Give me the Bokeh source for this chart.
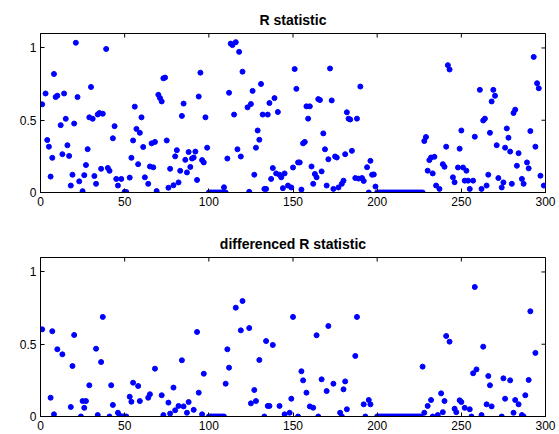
import numpy as np
from bokeh.plotting import figure
from bokeh.layouts import column
from bokeh.models import Range1d, FixedTicker
from bokeh.embed import file_html
from bokeh.resources import INLINE

# ---- R statistic (top panel) ----
r_idx = [1, 3, 4, 5, 6, 7, 8, 9, 10, 12, 13, 14, 15, 16, 17, 18, 19, 20, 21, 22,
         23, 25, 26, 27, 28, 29, 30, 31, 32, 33, 34, 35, 36, 37, 39, 40, 41, 43, 44, 45,
         46, 48, 50, 51, 53, 54, 55, 56, 57, 58, 59, 60, 61, 62, 64, 65, 66, 67, 68, 69,
         70, 71, 72, 73, 74, 75, 76, 77, 79, 80, 81, 82, 83, 84, 85, 86, 87, 88, 89, 90,
         91, 92, 93, 94, 95, 96, 97, 98, 99, 109, 111, 112, 113, 114, 115, 116, 117, 118, 119, 120,
         123, 124, 125, 126, 127, 128, 129, 130, 131, 132, 133, 134, 135, 136, 137, 138, 139, 140, 141, 142,
         143, 144, 145, 147, 149, 150, 151, 152, 153, 154, 155, 156, 157, 158, 159, 160, 161, 162, 163, 164,
         165, 166, 167, 168, 169, 170, 171, 172, 173, 174, 175, 176, 177, 179, 180, 181, 182, 183, 184, 185,
         187, 188, 189, 190, 191, 192, 194, 195, 196, 197, 198, 199, 228, 229, 230, 231, 232, 233, 234, 235,
         237, 239, 240, 241, 242, 243, 245, 246, 248, 249, 250, 251, 252, 253, 254, 255, 257, 258, 261, 262,
         263, 264, 265, 266, 267, 268, 269, 270, 271, 272, 274, 275, 276, 277, 278, 279, 280, 281, 282, 283,
         284, 286, 287, 289, 290, 291, 293, 294, 295, 296, 297, 299]
r_val = [0.61, 0.685, 0.363, 0.317, 0.11, 0.24, 0.82, 0.66, 0.67, 0.466, 0.265, 0.685, 0.51, 0.327, 0.253, 0.048, 0.123, 0.477, 1.036, 0.66,
         0.077, 0.009, 0.12, 0.19, 0.30, 0.52, 0.73, 0.51, 0.114, 0.06, 0.54, 0.55, 0.164, 0.545, 0.993, 0.17, 0.15, 0.375, 0.459, 0.094,
         0.048, 0.094, 0.005, 0.003, 0.103, 0.24, 0.36, 0.594, 0.44, 0.196, 0.413, 0.52, 0.315, 0.105, 0.06, 0.18, 0.34, 0.174, 0.35, 0.01,
         0.676, 0.653, 0.63, 0.79, 0.795, 0.36, 0.033, 0.164, 0.05, 0.25, 0.293, 0.07, 0.15, 0.53, 0.615, 0.226, 0.139, 0.28, 0.177, 0.235,
         0.242, 0.283, 0.087, 0.664, 0.829, 0.224, 0.208, 0.52, 0.31, 0.036, 0.235, 0.69, 1.03, 1.02, 0.539, 1.04, 0.299, 0.973, 0.249, 0.836,
         0.589, 0.005, 0.612, 0.703, 0.123, 0.31, 0.429, 0.365, 0.751, 0.539, 0.025, 0.025, 0.539, 0.619, 0.094, 0.169, 0.653, 0.132, 0.557, 0.123,
         0.105, 0.03, 0.132, 0.048, 0.035, 0.173, 0.854, 0.717, 0.208, 0.208, 0.02, 0.34, 0.35, 0.596, 0.511, 0.596, 0.18, 0.06, 0.128, 0.105,
         0.646, 0.64, 0.146, 0.409, 0.299, 0.048, 0.23, 0.858, 0.637, 0.025, 0.249, 0.242, 0.035, 0.06, 0.082, 0.265, 0.555, 0.511, 0.505, 0.288,
         0.1, 0.511, 0.096, 0.733, 0.1, 0.08, 0.175, 0.0, 0.219, 0.123, 0.125, 0.041, 0.356, 0.384, 0.151, 0.224, 0.242, 0.132, 0.247, 0.048,
         0.025, 0.196, 0.178, 0.317, 0.881, 0.851, 0.105, 0.071, 0.173, 0.303, 0.429, 0.173, 0.082, 0.151, 0.082, 0.025, 0.082, 0.386, 0.71, 0.025,
         0.498, 0.511, 0.048, 0.123, 0.413, 0.63, 0.71, 0.669, 0.327, 0.1, 0.035, 0.07, 0.31, 0.443, 0.379, 0.283, 0.06, 0.55, 0.573, 0.185,
         0.272, 0.094, 0.06, 0.208, 0.167, 0.425, 0.938, 0.317, 0.756, 0.721, 0.116, 0.048]
# stretches where the statistic sits at zero
r_zero_idx = list(range(100, 109)) + [110] + list(range(200, 228))

# ---- differenced R statistic (bottom panel) ----
d_idx = [1, 6, 7, 8, 10, 13, 18, 19, 20, 24, 25, 26, 27, 29, 33, 34, 36, 37, 41, 42,
         43, 46, 47, 48, 49, 50, 51, 53, 54, 55, 58, 59, 64, 65, 68, 72, 73, 76, 77, 79,
         80, 82, 84, 85, 87, 88, 91, 93, 94, 96, 97, 110, 111, 112, 116, 119, 120, 124, 125, 127,
         128, 130, 133, 134, 135, 136, 138, 142, 145, 148, 149, 150, 153, 155, 156, 158, 160, 162, 164, 165,
         167, 170, 171, 174, 178, 179, 180, 181, 182, 187, 188, 192, 193, 195, 196, 227, 228, 230, 232, 233,
         236, 238, 239, 240, 241, 243, 246, 247, 249, 250, 252, 255, 256, 257, 258, 259, 262, 263, 265, 266,
         267, 268, 274, 275, 276, 279, 281, 282, 284, 286, 287, 288, 290, 291, 294]
d_val = [0.603, 0.13, 0.59, 0.015, 0.465, 0.43, 0.066, 0.349, 0.564, 0.0, 0.107, 0.06, 0.107, 0.216, 0.469, 0.01, 0.377, 0.689, 0.0, 0.216,
         0.08, 0.026, 0.005, 0.0, 0.0, 0.0, 0.0, 0.137, 0.102, 0.234, 0.211, 0.107, 0.13, 0.154, 0.331, 0.147, 0.01, 0.096, 0.02, 0.2,
         0.043, 0.073, 0.389, 0.07, 0.026, 0.1, 0.046, 0.585, 0.165, 0.015, 0.296, 0.227, 0.465, 0.338, 0.753, 0.596, 0.799, 0.612, 0.091, 0.183,
         0.107, 0.391, 0.0, 0.522, 0.073, 0.073, 0.495, 0.073, 0.015, 0.026, 0.123, 0.689, 0.0, 0.313, 0.25, 0.165, 0.07, 0.061, 0.562, 0.0,
         0.257, 0.176, 0.626, 0.227, 0.026, 0.0, 0.188, 0.243, 0.05, 0.419, 0.689, 0.084, 0.0, 0.114, 0.084, 0.345, 0.026, 0.073, 0.114, 0.0,
         0.01, 0.16, 0.03, 0.107, 0.557, 0.518, 0.054, 0.03, 0.112, 0.1, 0.06, 0.05, 0.0, 0.299, 0.896, 0.326, 0.01, 0.483, 0.084, 0.28,
         0.216, 0.07, 0.0, 0.264, 0.123, 0.25, 0.026, 0.114, 0.084, 0.01, 0.0, 0.147, 0.253, 0.728, 0.44]
d_zero_idx = list(range(100, 110)) + list(range(200, 227))

x_ticks = [0, 50, 100, 150, 200, 250, 300]
y_ticks = [0, 0.5, 1]
y_tick_text = {0: "0", 0.5: "0.5", 1: "1"}
X_MIN, X_MAX = 0, 300
Y_MIN, Y_MAX = 0, 1.1

FONT = "Liberation Sans"
BLUE = "#0000ff"


def panel(title, idx, val, zero_idx, top_border, bottom_border):
    p = figure(frame_width=505, frame_height=159,
               x_range=Range1d(X_MIN, X_MAX), y_range=Range1d(Y_MIN, Y_MAX),
               output_backend="svg", toolbar_location=None,
               min_border_left=40, min_border_right=14,
               min_border_top=top_border, min_border_bottom=bottom_border)
    p.title.text = title
    p.title.align = "center"
    p.title.text_font = FONT
    p.title.text_font_size = "14px"
    p.title.text_font_style = "bold"
    p.title.text_color = "#000000"
    p.title.standoff = 12

    p.grid.visible = False
    p.outline_line_color = "#000000"
    p.outline_line_width = 1
    p.background_fill_color = "#ffffff"
    p.border_fill_color = "#ffffff"

    for ax in (p.xaxis[0], p.yaxis[0]):
        ax.major_tick_in = 4
        ax.major_tick_out = 0
        ax.minor_tick_line_color = None
        ax.axis_line_color = "#000000"
        ax.major_tick_line_color = "#000000"
        ax.major_label_text_font = FONT
        ax.major_label_text_font_size = "12px"
        ax.major_label_text_color = "#000000"
        ax.major_label_standoff = 4
    p.xaxis.ticker = FixedTicker(ticks=x_ticks)
    p.yaxis.ticker = FixedTicker(ticks=y_ticks)
    p.yaxis.major_label_overrides = y_tick_text

    # mirrored tick marks on the top and right edges of the box
    # (centred on the edge; the half outside the frame is clipped away)
    p.scatter(x_ticks, [Y_MAX] * len(x_ticks), marker="dash", angle=np.pi / 2,
              size=8, line_color="#000000", line_width=1)
    p.scatter([X_MAX] * len(y_ticks), y_ticks, marker="dash",
              size=8, line_color="#000000", line_width=1)

    xs = list(idx) + list(zero_idx)
    ys = list(val) + [0.0] * len(zero_idx)
    p.scatter(xs, ys, marker="circle", size=5, color=BLUE, line_color=BLUE)
    return p


p_top = panel("R statistic", r_idx, r_val, r_zero_idx, 33, 32)
p_bot = panel("differenced R statistic", d_idx, d_val, d_zero_idx, 33, 18)

layout = column(p_top, p_bot, spacing=0)
open("out.html", "w").write(file_html(layout, INLINE))
